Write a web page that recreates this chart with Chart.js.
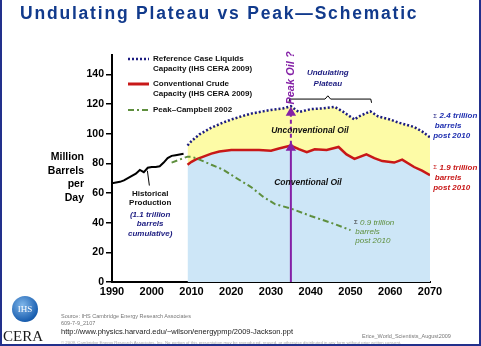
<!DOCTYPE html>
<html>
<head>
<meta charset="utf-8">
<script src="https://cdn.jsdelivr.net/npm/chart.js@4.4.0/dist/chart.umd.min.js"></script>
<style>
  html, body { margin: 0; padding: 0; background: #fff; }
  #page { position: relative; width: 481px; height: 346px; overflow: hidden; font-family: "Liberation Sans", Arial, sans-serif; }
  #chart { position: absolute; left: 0; top: 0; }
  #frame { position: absolute; left: 0; top: -4px; width: 481px; height: 350px; box-sizing: border-box; border: 2px solid #22308c; pointer-events: none; }
  .title { position: absolute; left: 20px; top: 3px; font-size: 17.5px; font-weight: bold; color: #113a8c; letter-spacing: 1.8px; white-space: nowrap; }
  .ytitle { position: absolute; right: 397px; top: 150px; font-size: 10.5px; font-weight: bold; line-height: 13.5px; text-align: right; color: #000; }
  .logo { position: absolute; left: 12px; top: 296px; width: 26px; height: 26px; border-radius: 50%;
          background: radial-gradient(circle at 40% 35%, #7fb6ea, #1a5fb0 70%, #0d3f85); color: #fff;
          font-family: "Liberation Serif", serif; font-size: 9px; text-align: center; line-height: 26px; }
  .cera { position: absolute; left: 3px; top: 328px; font-family: "Liberation Serif", serif; font-size: 15px; color: #1a1a1a; }
  .small { position: absolute; left: 61px; color: #777; white-space: nowrap; }
</style>
</head>
<body>
<div id="page">
  <canvas id="chart" width="481" height="346"></canvas>
  <div class="title">Undulating Plateau vs Peak—Schematic</div>
  <div class="ytitle">Million<br>Barrels<br>per<br>Day</div>
  <div class="logo">IHS</div>
  <div class="cera">CERA</div>
  <div class="small" style="top:313px;font-size:5.5px;">Source: IHS Cambridge Energy Research Associates</div>
  <div class="small" style="top:320px;font-size:5.5px;">609-7-9_2107</div>
  <div class="small" style="top:326.5px;font-size:7.5px;color:#222;">http://www.physics.harvard.edu/~wilson/energypmp/2009-Jackson.ppt</div>
  <div class="small" style="top:333px;left:362px;font-size:5.5px;">Erice_World_Scientists_August2009</div>
  <div class="small" style="top:340px;font-size:4.3px;color:#aaa;">© 2009, Cambridge Energy Research Associates, Inc. No portion of this presentation may be reproduced, reused, or otherwise distributed in any form without prior written consent.</div>
  <div id="frame"></div>
</div>
<script>
// ===============================
// DATA (million barrels per day)
// ===============================
const histYears  = [1990, 1991, 1992, 1993, 1994, 1995, 1996, 1997, 1998, 1999, 2000, 2001, 2002, 2003, 2004, 2005, 2006, 2007, 2008];
const histValues = [66.5, 67, 67.5, 68.5, 70, 71.5, 73, 75.5, 74, 77, 77.5, 77.5, 78, 80.5, 83.5, 85, 85.5, 86, 86.5];

const refYears  = [2009, 2010, 2012, 2015, 2018, 2020, 2023, 2025, 2028, 2030, 2033, 2035, 2037, 2040, 2043, 2046, 2048, 2051, 2052, 2055, 2057, 2060, 2062, 2064, 2066, 2068, 2070];
const refValues = [92, 95, 99.5, 104, 107.5, 109.5, 112, 113.5, 115, 116, 117, 118.5, 114.5, 116.5, 117, 118, 115, 109.5, 111.5, 115, 111.5, 109.5, 107.5, 106, 104.5, 101.5, 97.5];

const crudeYears  = [2009, 2010, 2011, 2013, 2015, 2017, 2020, 2025, 2027, 2030, 2032, 2035, 2037, 2039, 2041, 2044, 2047, 2049, 2051, 2054, 2056, 2058, 2061, 2063, 2066, 2068, 2070];
const crudeValues = [79, 81, 82.5, 84.5, 86.5, 88, 89, 89, 89, 88.5, 90, 92, 89.5, 87.5, 89.5, 89, 91, 86, 83, 86, 83.5, 81.5, 80.5, 82.5, 77.5, 75, 72];

const campbellYears  = [2005, 2007, 2009, 2010, 2012, 2015, 2018, 2021, 2025, 2028, 2031, 2033, 2035, 2040, 2045, 2050];
const campbellValues = [80.5, 82.5, 84.5, 84.5, 82.5, 79, 75.7, 70.5, 64, 57.5, 52.5, 51, 49.5, 44.5, 40, 35];

const peakYear = 2035;
const arrowSolid = [0, 90.5];
const arrowDashed = [92.5, 114];

const bracketYears  = [2034.5, 2034.7, 2043.6, 2044.3, 2045, 2055.1, 2055.3];
const bracketValues = [120.8, 123.3, 123.3, 125.5, 123.3, 123.3, 120.8];

const pointerYears  = [1998.9, 1999.4];
const pointerValues = [75, 65];

const xTicks = [1990, 2000, 2010, 2020, 2030, 2040, 2050, 2060, 2070];
const yTicks = [0, 20, 40, 60, 80, 100, 120, 140];

// ===============================
// COLOURS
// ===============================
const NAVY = "#1c1c80";
const RED = "#c81818";
const GREEN = "#5e8f3e";
const PURPLE = "#8420a6";
const BLUE_FILL = "#cde6f7";
const YELLOW_FILL = "#fdfba6";

function toXY(xs, ys) {
    return xs.map((x, i) => ({ x, y: ys[i] }));
}

// ===============================
// TEXT / LEGEND PLUGIN
// ===============================
function txt(ctx, s, x, y, font, color, align) {
    ctx.font = font;
    ctx.fillStyle = color;
    ctx.textAlign = align || "center";
    ctx.textBaseline = "middle";
    ctx.fillText(s, x, y);
}

const notes = {
    id: "notes",
    afterDraw(chart) {
        const ctx = chart.ctx;
        const xs = chart.scales.x, ys = chart.scales.y;
        const X = v => xs.getPixelForValue(v);
        const Y = v => ys.getPixelForValue(v);
        const F = "Liberation Sans, Arial, sans-serif";
        ctx.save();

        // legend
        ctx.lineWidth = 2.5;
        ctx.strokeStyle = NAVY; ctx.setLineDash([2, 2]);
        ctx.beginPath(); ctx.moveTo(128, 59); ctx.lineTo(149, 59); ctx.stroke();
        ctx.strokeStyle = RED; ctx.setLineDash([]); ctx.lineWidth = 3;
        ctx.beginPath(); ctx.moveTo(128, 84); ctx.lineTo(149, 84); ctx.stroke();
        ctx.strokeStyle = GREEN; ctx.setLineDash([6, 3, 2, 3]); ctx.lineWidth = 2;
        ctx.beginPath(); ctx.moveTo(128, 110); ctx.lineTo(149, 110); ctx.stroke();
        ctx.setLineDash([]);
        const lf = "bold 8px " + F;
        txt(ctx, "Reference Case Liquids", 153, 59, lf, "#111", "left");
        txt(ctx, "Capacity (IHS CERA 2009)", 153, 68.5, lf, "#111", "left");
        txt(ctx, "Conventional Crude", 153, 84, lf, "#111", "left");
        txt(ctx, "Capacity (IHS CERA 2009)", 153, 93.5, lf, "#111", "left");
        txt(ctx, "Peak\u2013Campbell 2002", 153, 110, lf, "#111", "left");

        // peak oil label
        ctx.save();
        ctx.translate(X(peakYear), Y(137.5));
        ctx.rotate(-Math.PI / 2);
        txt(ctx, "Peak Oil ?", 0, 0, "italic bold 11px " + F, PURPLE);
        ctx.restore();

        txt(ctx, "Undulating", X(2044.3), Y(140.9), "italic bold 8px " + F, NAVY);
        txt(ctx, "Plateau", X(2044.3), Y(133.6), "italic bold 8px " + F, NAVY);

        txt(ctx, "Unconventional Oil", X(2039.8), Y(101.8), "italic bold 8.5px " + F, "#111");
        txt(ctx, "Conventional Oil", X(2039.3), Y(67), "italic bold 8.5px " + F, "#111");

        txt(ctx, "Historical", X(1999.6), Y(59.3), "bold 8px " + F, "#111");
        txt(ctx, "Production", X(1999.6), Y(53.2), "bold 8px " + F, "#111");
        txt(ctx, "(1.1 trillion", X(1999.6), Y(45.2), "italic bold 8px " + F, NAVY);
        txt(ctx, "barrels", X(1999.6), Y(39.1), "italic bold 8px " + F, NAVY);
        txt(ctx, "cumulative)", X(1999.6), Y(32.4), "italic bold 8px " + F, NAVY);

        const af = "italic bold 8px " + F;
        txt(ctx, "\u03a3", X(2070.8), Y(111.9), "6px " + F, NAVY, "left");
        txt(ctx, "2.4 trillion", X(2072.4), Y(111.9), af, "#2030b0", "left");
        txt(ctx, "barrels", X(2071.2), Y(105.1), af, "#2030b0", "left");
        txt(ctx, "post 2010", X(2070.8), Y(98.4), af, "#2030b0", "left");

        txt(ctx, "\u03a3", X(2070.8), Y(77), "6px " + F, RED, "left");
        txt(ctx, "1.9 trillion", X(2072.4), Y(77), af, RED, "left");
        txt(ctx, "barrels", X(2071.2), Y(70.3), af, RED, "left");
        txt(ctx, "post 2010", X(2070.8), Y(63.8), af, RED, "left");

        const gf = "italic 8px " + F;
        txt(ctx, "\u03a3", X(2050.9), Y(40), "6px " + F, "#333", "left");
        txt(ctx, "0.9 trillion", X(2052.4), Y(40), gf, GREEN, "left");
        txt(ctx, "barrels", X(2051.2), Y(33.9), gf, GREEN, "left");
        txt(ctx, "post 2010", X(2051.2), Y(27.6), gf, GREEN, "left");

        ctx.restore();
    }
};

// ===============================
// CHART
// ===============================
const tickFont = { family: "Liberation Sans, Arial, sans-serif", size: 10.5, weight: "bold" };

new Chart(document.getElementById("chart"), {
    type: "line",
    data: {
        datasets: [
            {   // 0 arrow, solid part
                data: toXY([peakYear, peakYear], arrowSolid),
                borderColor: PURPLE, borderWidth: 2,
                pointStyle: "triangle", pointRadius: [0, 4], pointBackgroundColor: PURPLE, pointBorderColor: PURPLE,
                fill: false
            },
            {   // 1 arrow, dashed part
                data: toXY([peakYear, peakYear], arrowDashed),
                borderColor: PURPLE, borderWidth: 2, borderDash: [4, 3],
                pointStyle: "triangle", pointRadius: [0, 4], pointBackgroundColor: PURPLE, pointBorderColor: PURPLE,
                fill: false
            },
            {   // 2 Campbell
                data: toXY(campbellYears, campbellValues),
                borderColor: GREEN, borderWidth: 2, borderDash: [6, 3, 2, 3],
                pointRadius: 0, fill: false
            },
            {   // 3 conventional crude
                data: toXY(crudeYears, crudeValues),
                borderColor: RED, borderWidth: 2.5,
                backgroundColor: BLUE_FILL, fill: "origin",
                pointRadius: 0
            },
            {   // 4 reference case liquids
                data: toXY(refYears, refValues),
                borderColor: NAVY, borderWidth: 2.5, borderDash: [2, 2],
                backgroundColor: YELLOW_FILL, fill: 3,
                pointRadius: 0
            },
            {   // 5 history
                data: toXY(histYears, histValues),
                borderColor: "#000", borderWidth: 2, pointRadius: 0, fill: false
            },
            {   // 6 history pointer
                data: toXY(pointerYears, pointerValues),
                borderColor: "#000", borderWidth: 1, pointRadius: 0, fill: false
            },
            {   // 7 plateau bracket
                data: toXY(bracketYears, bracketValues),
                borderColor: "#000", borderWidth: 1, pointRadius: 0, fill: false
            }
        ]
    },
    options: {
        responsive: false,
        animation: false,
        layout: { padding: { left: 72, right: 51, top: 55, bottom: 44 } },
        plugins: { legend: { display: false }, tooltip: { enabled: false } },
        elements: { line: { tension: 0 } },
        scales: {
            x: {
                type: "linear", min: 1990, max: 2070,
                afterBuildTicks(s) { s.ticks = xTicks.map(v => ({ value: v })); },
                afterFit(s) { s.height = 20; },
                ticks: { font: { ...tickFont, size: 11 }, color: "#000", padding: 3, maxRotation: 0, callback: v => String(v) },
                grid: { display: false, drawTicks: false, tickLength: 0 },
                border: { color: "#000", width: 2 }
            },
            y: {
                min: 0, max: 153,
                afterBuildTicks(s) { s.ticks = yTicks.map(v => ({ value: v })); },
                afterFit(s) { s.width = 40; },
                ticks: { font: tickFont, color: "#000", padding: 2 },
                grid: { drawOnChartArea: false, tickLength: 6, color: "#000", lineWidth: 1.5 },
                border: { color: "#000", width: 2 }
            }
        }
    },
    plugins: [notes]
});
</script>
</body>
</html>
